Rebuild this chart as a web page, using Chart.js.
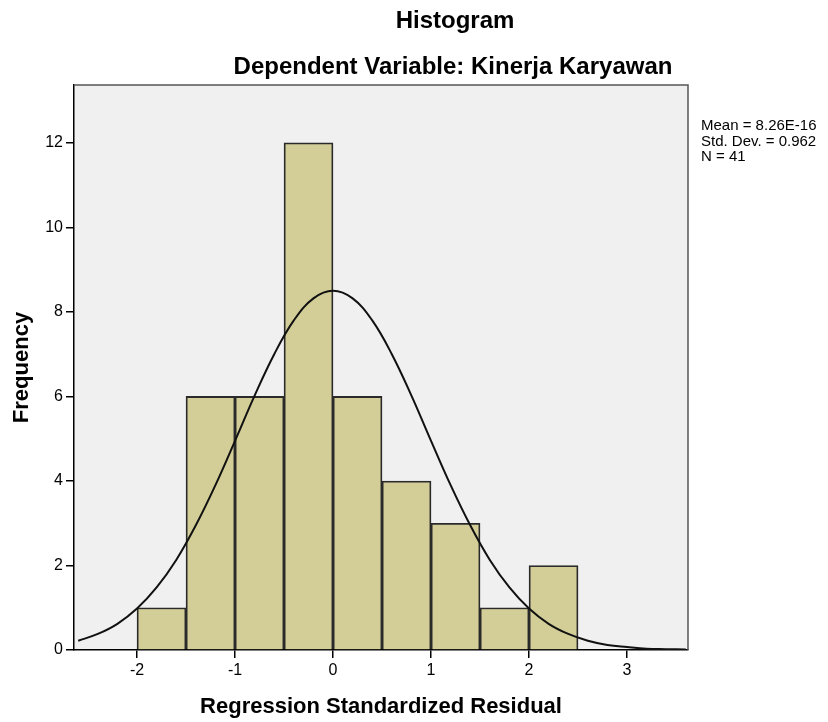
<!DOCTYPE html>
<html>
<head>
<meta charset="utf-8">
<script src="https://cdn.jsdelivr.net/npm/chart.js@4"></script>
<style>
  html, body { margin: 0; padding: 0; background: #fff; }
  #wrap { width: 828px; height: 722px; position: relative; }
</style>
</head>
<body>
<div id="wrap"><canvas id="histChart"></canvas></div>
<script>
// histogram bins (centers of 0.5 wide bins) and frequencies
const binCenters = [-1.75, -1.25, -0.75, -0.25, 0.25, 0.75, 1.25, 1.75, 2.25];
const frequencies = [1, 6, 6, 12, 6, 4, 3, 1, 2];

// normal curve
const curveX = [-2.6, -2.4, -2.2, -2.0, -1.8, -1.6, -1.4, -1.2, -1.0, -0.8, -0.6, -0.4, -0.2, 0,
  0.2, 0.4, 0.6, 0.8, 1.0, 1.2, 1.4, 1.6, 1.8, 2.0, 2.2, 2.4, 2.6, 2.8, 3.0, 3.2, 3.4, 3.6];
const curveY = [0.22, 0.38, 0.62, 0.98, 1.48, 2.13, 2.95, 3.90, 4.95, 6.02, 7.00, 7.80, 8.32, 8.50,
  8.32, 7.80, 7.00, 6.02, 4.95, 3.90, 2.95, 2.13, 1.48, 0.98, 0.62, 0.38, 0.22, 0.12, 0.07, 0.03, 0.02, 0.01];

const xTicks = [-2, -1, 0, 1, 2, 3];
const yTicks = [0, 2, 4, 6, 8, 10, 12];
const statLines = ['Mean = 8.26E-16', 'Std. Dev. = 0.962', 'N = 41'];

const FONT = "'Liberation Sans', Arial, sans-serif";

// plot background, frame and text
const spssFrame = {
  id: 'spssFrame',
  beforeDraw(chart) {
    const { ctx, chartArea: a } = chart;
    ctx.save();
    ctx.fillStyle = '#f0f0f0';
    ctx.fillRect(a.left, a.top, a.right - a.left, a.bottom - a.top);
    ctx.restore();
  },
  afterDraw(chart) {
    const { ctx, chartArea: a } = chart;
    ctx.save();
    ctx.strokeStyle = '#555';
    ctx.lineWidth = 1.5;
    ctx.beginPath();
    ctx.moveTo(a.left, a.top);
    ctx.lineTo(a.right, a.top);
    ctx.lineTo(a.right, a.bottom);
    ctx.stroke();

    ctx.fillStyle = '#000';
    ctx.textAlign = 'center';
    ctx.textBaseline = 'middle';
    ctx.font = 'bold 24px ' + FONT;
    ctx.fillText('Histogram', 455, 21);
    ctx.fillText('Dependent Variable: Kinerja Karyawan', 453, 67);

    ctx.textAlign = 'left';
    ctx.font = '15px ' + FONT;
    statLines.forEach((t, i) => ctx.fillText(t, 701, 126 + i * 15.5));
    ctx.restore();
  }
};

const histChart = new Chart(document.getElementById('histChart'), {
  type: 'bar',
  data: {
    datasets: [{
      type: 'line',
      data: curveX.map((x, i) => ({ x: x, y: curveY[i] })),
      borderColor: '#111',
      borderWidth: 2,
      pointRadius: 0,
      tension: 0.4,
      fill: false,
      order: 0
    }, {
      type: 'bar',
      data: binCenters.map((x, i) => ({ x: x, y: frequencies[i] })),
      backgroundColor: '#d3ce98',
      borderColor: '#2a2a2a',
      borderWidth: 1.8,
      barPercentage: 1,
      categoryPercentage: 1,
      order: 1
    }]
  },
  options: {
    responsive: true,
    maintainAspectRatio: false,
    animation: false,
    layout: { padding: { left: 0, right: 140, top: 85, bottom: 0 } },
    plugins: {
      legend: { display: false },
      tooltip: { enabled: false }
    },
    scales: {
      x: {
        type: 'linear',
        offset: false,
        min: -2.643,
        max: 3.622,
        afterFit(scale) { scale.height = 72; },
        afterBuildTicks(scale) { scale.ticks = xTicks.map(v => ({ value: v })); },
        ticks: { color: '#000', font: { family: FONT, size: 16 }, padding: 3, maxRotation: 0 },
        grid: { offset: false, drawOnChartArea: false, drawTicks: true, tickLength: 8, color: '#000', lineWidth: 1.5 },
        border: { display: true, color: '#000', width: 1.5 },
        title: {
          display: true,
          text: 'Regression Standardized Residual',
          color: '#000',
          font: { family: FONT, size: 22, weight: 'bold' },
          padding: { top: 0, bottom: 2 }
        }
      },
      y: {
        min: 0,
        max: 13.37,
        afterFit(scale) { scale.width = 74; },
        afterBuildTicks(scale) { scale.ticks = yTicks.map(v => ({ value: v })); },
        ticks: { color: '#000', font: { family: FONT, size: 16 }, padding: 3 },
        grid: { drawOnChartArea: false, drawTicks: true, tickLength: 8, color: '#000', lineWidth: 1.5 },
        border: { display: true, color: '#000', width: 1.5 },
        title: {
          display: true,
          text: 'Frequency',
          color: '#000',
          font: { family: FONT, size: 22, weight: 'bold' },
          padding: { top: 9, bottom: 0 }
        }
      }
    }
  },
  plugins: [spssFrame]
});
</script>
</body>
</html>
